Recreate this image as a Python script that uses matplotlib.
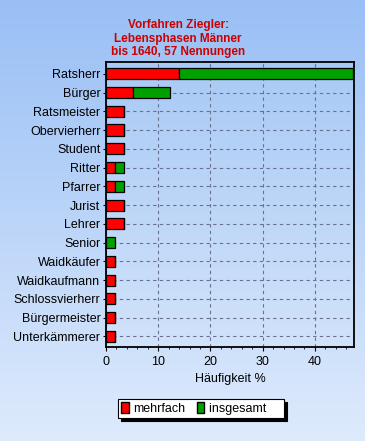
import numpy as np
import matplotlib
matplotlib.use("Agg")
import matplotlib.pyplot as plt
from matplotlib.patches import Patch
from matplotlib.ticker import MultipleLocator

plt.rcParams['font.family'] = ['Liberation Sans', 'DejaVu Sans']

# Anteile in % von 57 Nennungen
labels = ['Ratsherr', 'Bürger', 'Ratsmeister', 'Obervierherr', 'Student', 'Ritter',
          'Pfarrer', 'Jurist', 'Lehrer', 'Senior', 'Waidkäufer', 'Waidkaufmann',
          'Schlossvierherr', 'Bürgermeister', 'Unterkämmerer']
mehrfach = [14.04, 5.26, 3.51, 3.51, 3.51, 1.75, 1.75, 3.51, 3.51, 0.0,
            1.75, 1.75, 1.75, 1.75, 1.75]
insgesamt = [33.33, 7.02, 0.0, 0.0, 0.0, 1.75, 1.75, 0.0, 0.0, 1.75,
             0.0, 0.0, 0.0, 0.0, 0.0]

fig = plt.figure(figsize=(3.65, 4.41), dpi=100)

# Hintergrund mit Verlauf
bg = fig.add_axes([0, 0, 1, 1], zorder=-2)
grad = np.linspace(0, 1, 256).reshape(-1, 1)
top = np.array([0.60, 0.75, 0.96])
bot = np.array([0.87, 0.92, 0.99])
img = top + (bot - top) * grad[:, :, None]
bg.imshow(img, aspect='auto', extent=(0, 1, 0, 1))
bg.axis('off')

pos = [0.2904, 0.2138, 0.6795, 0.6445]
pa = fig.add_axes(pos, zorder=-1)
top2 = np.array([0.66, 0.79, 0.96])
bot2 = np.array([0.82, 0.89, 0.98])
img2 = top2 + (bot2 - top2) * grad[:, :, None]
pa.imshow(img2, aspect='auto', extent=(0, 1, 0, 1))
pa.axis('off')

ax = fig.add_axes(pos)
ax.patch.set_alpha(0)
y = np.arange(len(labels))
ax.barh(y, mehrfach, height=0.59, color='#ff0000', edgecolor='black', linewidth=0.9, zorder=3)
ax.barh(y, insgesamt, left=mehrfach, height=0.59, color='#00a000', edgecolor='black',
        linewidth=0.9, zorder=3)

ax.set_yticks(y)
ax.set_yticklabels(labels, fontsize=9)
ax.set_ylim(14.55, -0.6)
ax.set_xlim(0, 47.5)
ax.xaxis.set_major_locator(MultipleLocator(10))
ax.xaxis.set_minor_locator(MultipleLocator(2))
ax.tick_params(axis='x', labelsize=9, length=3, pad=4)
ax.tick_params(axis='x', which='minor', length=1.5)
ax.tick_params(axis='y', length=2, pad=2)
ax.grid(True, which='major', color='#6a7090', linestyle=(0, (3, 3)), linewidth=0.8, zorder=1)
ax.set_axisbelow(True)
for s in ax.spines.values():
    s.set_linewidth(1.3)
ax.set_xlabel('Häufigkeit %', fontsize=9, labelpad=3)

fig.text(0.488, 0.958, 'Vorfahren Ziegler:\nLebensphasen Männer\nbis 1640, 57 Nennungen',
         ha='center', va='top', color='#cc0000', fontsize=8.5, fontweight='bold', linespacing=1.22)

handles = [Patch(facecolor='#ff0000', edgecolor='black', label='mehrfach'),
           Patch(facecolor='#00a000', edgecolor='black', label='insgesamt    ')]
leg = ax.legend(handles=handles, loc='center left', bbox_to_anchor=(0.323, 0.074),
                bbox_transform=fig.transFigure, ncol=2, fontsize=9, frameon=True,
                fancybox=False, framealpha=1, edgecolor='black', handlelength=0.6,
                handleheight=1.0, handletextpad=0.4, columnspacing=0.9, borderpad=0.25,
                borderaxespad=0, shadow={'color': 'black', 'alpha': 1})
leg.get_frame().set_linewidth(0.8)

fig.savefig('out.png', dpi=100)
